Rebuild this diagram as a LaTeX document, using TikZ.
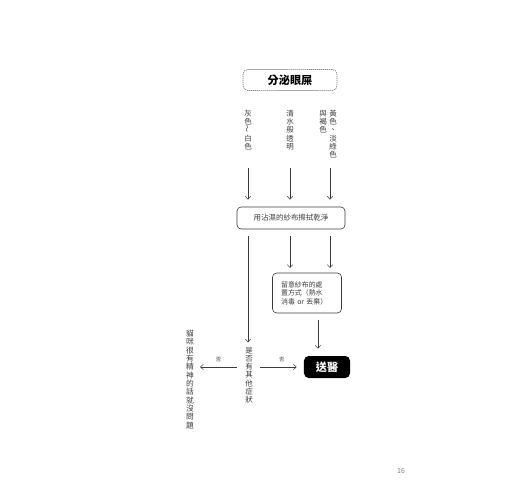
\documentclass[tikz,border=0pt]{standalone}
\usepackage{fontspec}
\usetikzlibrary{arrows.meta, positioning}
\newfontfamily\cjk{Noto Sans CJK TC}
\definecolor{inkgray}{RGB}{60, 60, 60}

\begin{document}
\begin{tikzpicture}[x=0.03cm, y=-0.03cm,
    arr/.style={-{Straight Barb[length=2.5pt, width=4.5pt]}, line width=0.45pt, inkgray},
    topbox/.style={draw=gray, dash pattern=on 1pt off 0.7pt, rounded corners=4pt, line width=0.6pt,
      minimum width=2.82cm, minimum height=0.63cm, font=\cjk\fontsize{9.5}{11}\selectfont\bfseries},
    stepbox/.style={draw=inkgray, rounded corners=3.5pt, line width=0.5pt},
    vetbox/.style={fill=black, rounded corners=4pt, text=white,
      minimum width=1.38cm, minimum height=0.66cm, font=\cjk\fontsize{9.5}{11}\selectfont\bfseries},
    vtext/.style={anchor=north, inner sep=0pt, align=center, text=inkgray,
      font=\cjk\fontsize{6.4}{7}\selectfont},
    nolabel/.style={font=\cjk\fontsize{4.5}{5}\selectfont, text=inkgray, inner sep=0pt}]
  \useasboundingbox (0,0) rectangle (520,500);

  % ===== 上段 =====
  \node[topbox] (discharge) at (290,80) {分泌眼屎};

  % 眼屎顏色（直排）
  \node[vtext] (grey)   at (248,110) {灰\\色\\\rotatebox{90}{～}\\白\\色};
  \node[vtext] (clear)  at (290,110) {清\\水\\般\\透\\明};
  \node[vtext] (yellow) at (333,110) {黃\\色\\、\\淡\\綠\\色};
  \node[vtext] (brown)  at (323,110) {與\\褐\\色};

  \coordinate (g0) at (248,168);
  \coordinate (c0) at (290,168);
  \coordinate (y0) at (330,168);

  % ===== 擦拭 =====
  \node[stepbox, minimum width=3.24cm, minimum height=0.66cm,
    font=\cjk\fontsize{6.4}{8}\selectfont, text=inkgray] (wipe) at (291,218) {用沾濕的紗布擦拭乾淨};

  \draw[arr, shorten >=6pt] (g0) -- (g0 |- wipe.north);
  \draw[arr, shorten >=6pt] (c0) -- (c0 |- wipe.north);
  \draw[arr, shorten >=6pt] (y0) -- (y0 |- wipe.north);

  % 紗布處置
  \node[stepbox, minimum width=2.07cm, minimum height=1.2cm, text width=1.55cm, align=left,
    font=\cjk\fontsize{5.9}{7.3}\selectfont, text=inkgray] (gauze) at (307,293)
    {留意紗布的處\\置方式（熱水\\消毒 or 丟棄）};

  \coordinate (c1) at (290,236);
  \coordinate (y1) at (330,236);
  \draw[arr, shorten >=4pt] (c1) -- (c1 |- gauze.north);
  \draw[arr, shorten >=4pt] (y1) -- (y1 |- gauze.north);

  % ===== 下段 =====
  \node[vtext] (symptom) at (249,347) {是\\否\\有\\其\\他\\症\\狀};
  \node[vetbox] (vet) at (327,367) {送醫};
  \node[vtext, font=\cjk\fontsize{6.6}{7.1}\selectfont] (fine) at (190,330)
    {貓\\咪\\很\\有\\精\\神\\的\\話\\就\\沒\\問\\題};

  \coordinate (w1) at (248,236);
  \draw[arr, shorten >=4pt] (w1) -- (w1 |- symptom.north);

  \coordinate (v1) at (318,320);
  \draw[arr, shorten >=6pt] (v1) -- (v1 |- vet.north);

  \coordinate (s1) at (237,367);
  \coordinate (s2) at (260,367);
  \coordinate (f1) at (200,367);
  \draw[arr] (s1) -- (f1) node[midway, above=4pt, nolabel] (noleft) {否};
  \draw[arr, shorten >=6pt] (s2) -- (s2 -| vet.west) node[midway, above=4pt, nolabel] (noright) {否};

  % 頁碼
  \node[font=\cjk\fontsize{6}{7}\selectfont, text=gray] (page) at (401,471) {16};
\end{tikzpicture}
\end{document}
